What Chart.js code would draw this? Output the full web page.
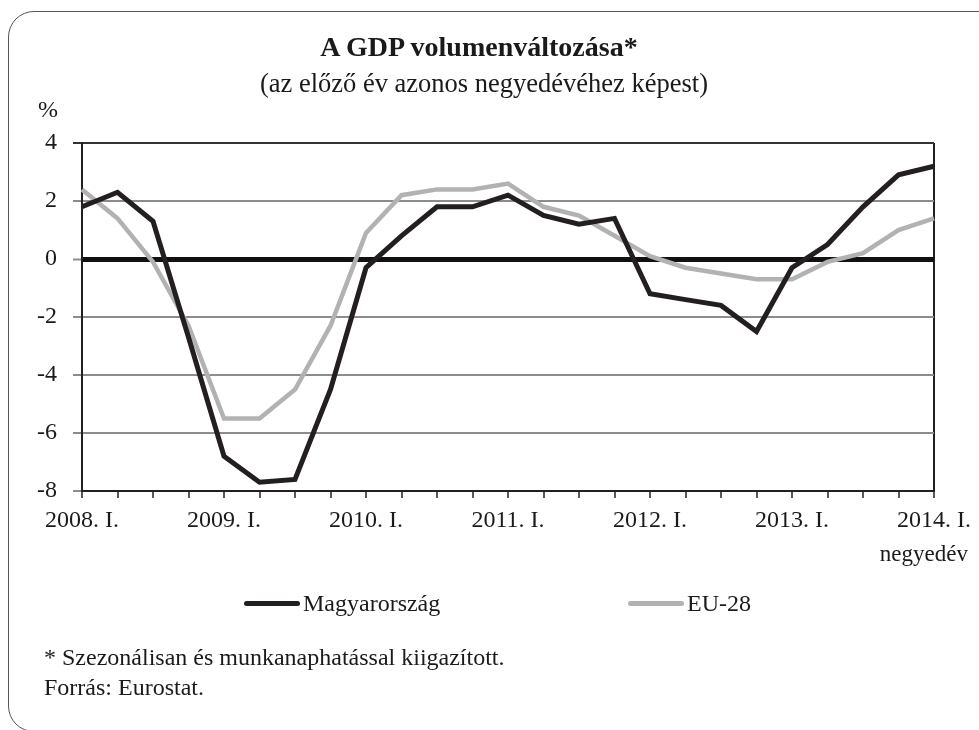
<!DOCTYPE html>
<html lang="hu">
<head>
<meta charset="utf-8">
<title>A GDP volumenváltozása</title>
<script src="https://cdn.jsdelivr.net/npm/chart.js@4.4.1/dist/chart.umd.min.js"></script>
<style>
  html, body { margin: 0; padding: 0; background: #fff; }
  body { width: 979px; height: 730px; position: relative; overflow: hidden;
         font-family: "Liberation Serif", "DejaVu Serif", serif; color: #1a1a1a; }
  #frame { position: absolute; left: 8px; top: 11px; width: 1000px; height: 721px;
           border: 1.5px solid #555; border-radius: 26px; box-sizing: border-box; }
  #chartBox { position: absolute; left: 0; top: 0; width: 979px; height: 730px; }
  .txt { position: absolute; white-space: nowrap; line-height: 1; }
  #title { left: 0; width: 958px; top: 33px; text-align: center; font-weight: bold; font-size: 28px; }
  #subtitle { left: 0; width: 968px; top: 70px; text-align: center; font-size: 26.5px; }
  #unit { left: 38px; top: 97px; font-size: 24px; }
  #xunit { right: 11px; top: 542px; font-size: 23px; }
  .leg { position: absolute; top: 591px; font-size: 24px; line-height: 1; display: flex; align-items: center; }
  .leg i { display: inline-block; width: 56px; height: 5px; border-radius: 3px; margin-right: 3px; }
  #note1 { left: 44px; top: 645px; font-size: 24px; }
  #note2 { left: 44px; top: 675px; font-size: 24px; }
</style>
</head>
<body>
<div id="frame"></div>
<div id="chartBox"><canvas id="gdpChart"></canvas></div>
<div class="txt" id="title">A GDP volumenváltozása*</div>
<div class="txt" id="subtitle">(az előző év azonos negyedévéhez képest)</div>
<div class="txt" id="unit">%</div>
<div class="txt" id="xunit">negyedév</div>
<div class="leg" style="left:244px"><i style="background:#231f20"></i>Magyarország</div>
<div class="leg" style="left:628px"><i style="background:#b2b2b4"></i>EU-28</div>
<div class="txt" id="note1">* Szezonálisan és munkanaphatással kiigazított.</div>
<div class="txt" id="note2">Forrás: Eurostat.</div>
<script>
// negyedévek 2008. I. - 2014. I.
const negyedevek = [
  '2008. I.', '2008. II.', '2008. III.', '2008. IV.',
  '2009. I.', '2009. II.', '2009. III.', '2009. IV.',
  '2010. I.', '2010. II.', '2010. III.', '2010. IV.',
  '2011. I.', '2011. II.', '2011. III.', '2011. IV.',
  '2012. I.', '2012. II.', '2012. III.', '2012. IV.',
  '2013. I.', '2013. II.', '2013. III.', '2013. IV.',
  '2014. I.'
];

const magyarorszag = [1.8, 2.3, 1.3, -2.7, -6.8, -7.7, -7.6, -4.5, -0.3, 0.8, 1.8, 1.8, 2.2,
                      1.5, 1.2, 1.4, -1.2, -1.4, -1.6, -2.5, -0.3, 0.5, 1.8, 2.9, 3.2];
const eu28 = [2.4, 1.4, -0.1, -2.3, -5.5, -5.5, -4.5, -2.3, 0.9, 2.2, 2.4, 2.4, 2.6,
              1.8, 1.5, 0.8, 0.1, -0.3, -0.5, -0.7, -0.7, -0.1, 0.2, 1.0, 1.4];

// csak az I. negyedévek kapnak feliratot
const evesFeliratok = ['2008. I.', '2009. I.', '2010. I.', '2011. I.', '2012. I.', '2013. I.', '2014. I.'];

const yMin = -8, yMax = 4, yStep = 2;

const betu = { family: '"Liberation Serif", "DejaVu Serif", serif', size: 24 };

new Chart(document.getElementById('gdpChart'), {
  type: 'line',
  data: {
    labels: negyedevek,
    datasets: [
      {
        label: 'EU-28',
        data: eu28,
        borderColor: '#b2b2b4',
        borderWidth: 4.5,
        pointRadius: 0,
        tension: 0,
        order: 2
      },
      {
        label: 'Magyarország',
        data: magyarorszag,
        borderColor: '#231f20',
        borderWidth: 5,
        pointRadius: 0,
        tension: 0,
        order: 1
      }
    ]
  },
  options: {
    responsive: true,
    maintainAspectRatio: false,
    animation: false,
    layout: { padding: { left: 0, right: 41, top: 143, bottom: 199 } },
    plugins: {
      legend: { display: false },
      title: { display: false },
      tooltip: { enabled: false }
    },
    scales: {
      x: {
        offset: false,
        afterFit: function(scale) { scale.height = 40; },
        border: { display: true, color: '#231f20', width: 2 },
        grid: {
          drawOnChartArea: true,
          drawTicks: true,
          tickLength: 7,
          tickColor: '#231f20',
          tickWidth: 1.5,
          lineWidth: 2,
          // csak a jobb szélső függőleges vonal látszik
          color: function(ctx) {
            return ctx.index === negyedevek.length - 1 ? '#231f20' : 'rgba(0,0,0,0)';
          }
        },
        ticks: {
          autoSkip: false,
          maxRotation: 0,
          padding: 8,
          color: '#1a1a1a',
          font: betu,
          callback: function(value, index) {
            const l = negyedevek[index];
            return evesFeliratok.includes(l) ? l : '';
          }
        }
      },
      y: {
        min: yMin,
        max: yMax,
        afterFit: function(scale) { scale.width = 82; },
        border: { display: true, color: '#231f20', width: 2 },
        grid: {
          tickLength: 9,
          color: function(ctx) {
            if (ctx.tick.value === 0) return '#111';
            if (ctx.tick.value === yMax) return '#333';
            return '#8c8c8c';
          },
          lineWidth: function(ctx) {
            return ctx.tick.value === 0 ? 5 : 2;
          },
          tickColor: function(ctx) {
            return ctx.tick.value === yMax ? '#333' : '#8c8c8c';
          },
          tickWidth: 2
        },
        ticks: {
          stepSize: yStep,
          padding: 16,
          color: '#1a1a1a',
          font: betu
        }
      }
    }
  }
});
</script>
</body>
</html>
